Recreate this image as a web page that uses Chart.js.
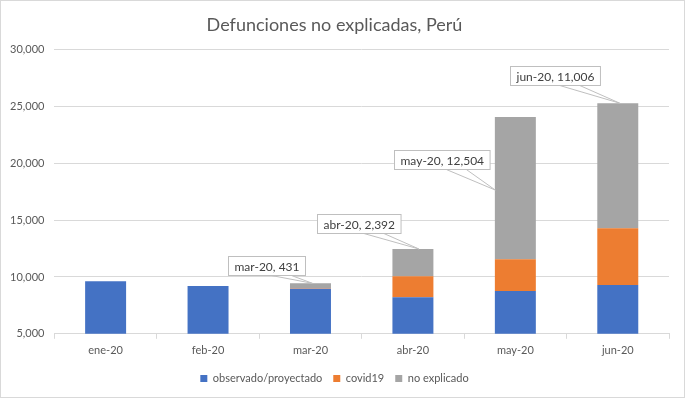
<!DOCTYPE html>
<html>
<head>
<meta charset="utf-8">
<script src="https://cdn.jsdelivr.net/npm/chart.js"></script>
<style>
	html, body { margin: 0; padding: 0; background: #fff; }
	#wrap { width: 685px; height: 398px; }
</style>
</head>
<body>
<div id="wrap"><canvas id="defunciones-chart" width="685" height="398"></canvas></div>
<script>
// Data
const months = ['ene-20', 'feb-20', 'mar-20', 'abr-20', 'may-20', 'jun-20'];
const observado = [9620, 9200, 8960, 8220, 8770, 9290];
const covid19 = [0, 0, 50, 1850, 2790, 4990];
const noExplicado = [0, 0, 431, 2392, 12504, 11006];
const yTicks = [5000, 10000, 15000, 20000, 25000, 30000];

const FONT = "Lato, 'Open Sans', sans-serif";

// Callout boxes for the "no explicado" segment (offsets relative to the bar top)
const callouts = {
	2: { dx: -44, dy: -18, tx: 2, ty: 0 },
	3: { dx: -54, dy: -25, tx: 6, ty: 0 },
	4: { dx: -74, dy: 42, tx: -20, ty: 73 },
	5: { dx: -63, dy: -28, tx: 2, ty: 0 }
};

const calloutPlugin = {
	id: 'callouts',
	afterDatasetsDraw(chart) {
		const ctx = chart.ctx;
		const meta = chart.getDatasetMeta(2);
		ctx.save();
		ctx.font = "12px " + FONT;
		for (const idx in callouts) {
			const c = callouts[idx];
			const bar = meta.data[idx];
			const label = months[idx] + ', ' + noExplicado[idx].toLocaleString('en-US');
			const w = ctx.measureText(label).width + 12;
			const h = 19;
			const cx = bar.x + c.dx;
			const cy = bar.y + c.dy;
			const left = Math.round(cx - w / 2) + 0.5;
			const top = Math.round(cy - h / 2) + 0.5;
			const bottom = top + h;

			// pointer wedge
			ctx.beginPath();
			ctx.moveTo(cx + 5, bottom);
			ctx.lineTo(bar.x + c.tx, bar.y + c.ty);
			ctx.lineTo(cx + 25, bottom);
			ctx.closePath();
			ctx.fillStyle = '#ffffff';
			ctx.fill();
			ctx.strokeStyle = '#bfbfbf';
			ctx.lineWidth = 1;
			ctx.stroke();

			// box
			ctx.fillStyle = '#ffffff';
			ctx.fillRect(left, top, w, h);
			ctx.strokeRect(left, top, w, h);

			ctx.fillStyle = '#404040';
			ctx.textAlign = 'center';
			ctx.textBaseline = 'middle';
			ctx.fillText(label, left + w / 2, top + h / 2 + 1);
		}
		ctx.restore();
	}
};

const borderPlugin = {
	id: 'outerBorder',
	afterDraw(chart) {
		const ctx = chart.ctx;
		ctx.save();
		ctx.strokeStyle = '#d9d9d9';
		ctx.lineWidth = 1;
		ctx.strokeRect(0.5, 0.5, chart.width - 1, chart.height - 1);
		ctx.restore();
	}
};

new Chart(document.getElementById('defunciones-chart'), {
	type: 'bar',
	data: {
		labels: months,
		datasets: [{
			label: 'observado/proyectado',
			data: observado,
			backgroundColor: '#4472C4'
		}, {
			label: 'covid19',
			data: covid19,
			backgroundColor: '#ED7D31'
		}, {
			label: 'no explicado',
			data: noExplicado,
			backgroundColor: '#A5A5A5'
		}]
	},
	options: {
		responsive: false,
		animation: false,
		devicePixelRatio: 1,
		layout: { padding: { left: 0, right: 16, top: 0, bottom: 4 } },
		datasets: {
			bar: { barPercentage: 0.4, categoryPercentage: 1.0 }
		},
		plugins: {
			title: {
				display: true,
				text: 'Defunciones no explicadas, Perú',
				color: '#595959',
				font: { family: FONT, size: 18, weight: 'normal' },
				padding: { top: 14, bottom: 14 }
			},
			legend: {
				position: 'bottom',
				labels: {
					boxWidth: 7,
					boxHeight: 7,
					color: '#595959',
					font: { family: FONT, size: 11 },
					padding: 11
				}
			},
			tooltip: { enabled: false }
		},
		scales: {
			x: {
				stacked: true,
				grid: {
					display: true,
					drawOnChartArea: false,
					color: '#d9d9d9',
					tickLength: 5
				},
				border: { color: '#d9d9d9' },
				ticks: {
					color: '#595959',
					font: { family: FONT, size: 11 },
					padding: 5
				}
			},
			y: {
				stacked: true,
				min: yTicks[0],
				max: yTicks[yTicks.length - 1],
				afterBuildTicks(axis) {
					axis.ticks = yTicks.map(v => ({ value: v }));
				},
				grid: { color: '#d9d9d9', drawTicks: false },
				border: { display: false },
				ticks: {
					color: '#595959',
					font: { family: FONT, size: 11 },
					padding: 10,
					callback: v => v.toLocaleString('en-US')
				}
			}
		}
	},
	plugins: [calloutPlugin, borderPlugin]
});
</script>
</body>
</html>
